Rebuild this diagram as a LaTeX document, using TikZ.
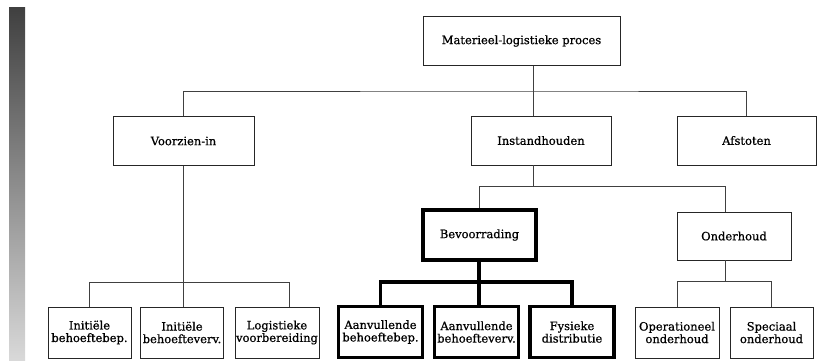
\documentclass[tikz,border=0pt]{standalone}
\usepackage{fontspec}
\setmainfont{DejaVu Serif}[FakeBold=0.7]
\usetikzlibrary{positioning, calc}

\begin{document}
\begin{tikzpicture}[
  x=1pt, y=-1pt,
  font=\fontsize{11.5}{12.5}\selectfont,
  unit/.style={draw=black!85, line width=0.8pt, fill=white, align=center,
    inner sep=1pt, minimum height=49pt},
  leaf/.style={unit, minimum height=51pt, minimum width=83pt},
  keyunit/.style={unit, draw=black, line width=3.8pt},
  keyleaf/.style={leaf, draw=black, line width=3.8pt, minimum width=84pt},
  link/.style={draw=black!75, line width=0.6pt},
  keylink/.style={draw=black, line width=3.3pt}
]
\useasboundingbox (0,0) rectangle (818,360);

% scanned page edge on the left
\shade[top color=black!75, bottom color=black!15] (9,7) rectangle (25,360);

% top of the tree
\node[unit, minimum width=197pt] (proces) at (521.5,41) {Materieel-logistieke proces};

\node[unit, minimum width=141pt] (voorzien) at (183.5,141) {Voorzien-in};
\node[unit, minimum width=140pt] (instand)  at (541,140.5) {Instandhouden};
\node[unit, minimum width=139pt] (afstoten) at (746.5,140.5) {Afstoten};

% second level under Instandhouden
\node[keyunit, minimum width=113pt, minimum height=50pt] (bevoorr) at (479.5,235) {Bevoorrading};
\node[unit, minimum width=114pt, minimum height=48pt] (onderh) at (734,236) {Onderhoud};

% leaves
\node[leaf] (initbep)  at (89.5,332.5) {Initiële\\behoeftebep.};
\node[leaf] (initverv) at (182,332.5)  {Initiële\\behoefteverv.};
\node[leaf, minimum width=84pt] (logvoor) at (277,332.5) {Logistieke\\voorbereiding};

\node[keyleaf] (aanvbep)  at (380.5,332) {Aanvullende\\behoeftebep.};
\node[keyleaf] (aanvverv) at (476.5,332) {Aanvullende\\behoefteverv.};
\node[keyleaf] (fysdist)  at (572,332)   {Fysieke\\distributie};

\node[leaf, minimum width=84pt] (operond) at (677,332.5) {Operationeel\\onderhoud};
\node[leaf] (specond) at (771.5,332.5) {Speciaal\\onderhoud};

% junctions
\coordinate (hub1) at (533,91);
\coordinate (hub2) at (533,186);
\coordinate (hub2r) at (725,186);
\coordinate (hub3r) at (289,282);
\coordinate (hub4) at (479,282);
\coordinate (hub5) at (725,281);

% thin links
\draw[link] (proces.south -| hub1) -- (instand.north -| hub1);
\draw[link] (voorzien.north) |- (hub1) -| (afstoten.north);
\draw[link] (instand.south -| hub2) -- (hub2);
\draw[link] (bevoorr.north) |- (hub2r) -- (hub2r |- onderh.north);
\draw[link] (voorzien.south) -- (initverv.north -| voorzien.south);
\draw[link] (initbep.north) |- (hub3r) -- (hub3r |- logvoor.north);
\draw[link] (onderh.south -| hub5) -- (hub5);
\draw[link] (operond.north) |- (hub5) -| (specond.north);

% thick links under Bevoorrading
\draw[keylink] (bevoorr.south -| hub4) -- (aanvverv.north -| hub4);
\draw[keylink] (aanvbep.north) |- (hub4) -| (fysdist.north);

\end{tikzpicture}
\end{document}
